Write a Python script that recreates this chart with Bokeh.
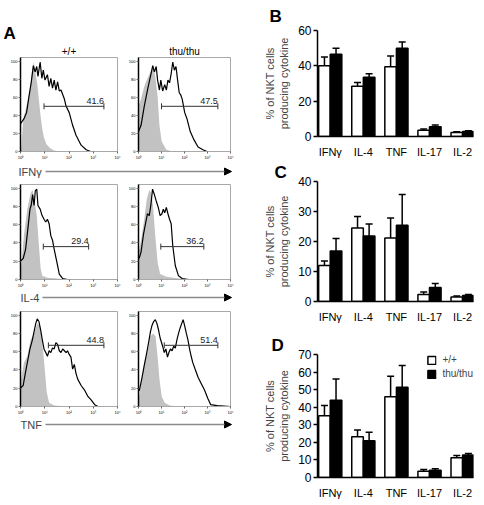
import numpy as np
from bokeh.plotting import figure
from bokeh.layouts import row, column
from bokeh.models import (Range1d, FixedTicker, Whisker, TeeHead, NormalHead, Arrow,
                          Label, ColumnDataSource, Spacer, Legend, LegendItem, Title)
from bokeh.core.properties import value
from bokeh.embed import file_html
from bokeh.resources import INLINE

FONT = "Liberation Sans"

# ---------------- bar chart data (panels B, C, D) ----------------
categories = ["IFNγ", "IL-4", "TNF", "IL-17", "IL-2"]
genotypes = ["+/+", "thu/thu"]

b_wt = [40.0, 28.5, 39.5, 3.5, 2.3]
b_wt_err = [5.0, 2.0, 6.0, 0.7, 0.4]
b_mut = [46.5, 33.5, 50.0, 5.5, 2.8]
b_mut_err = [3.5, 2.0, 3.5, 1.0, 0.4]

c_wt = [12.0, 24.5, 21.2, 2.3, 1.5]
c_wt_err = [1.5, 3.8, 6.6, 0.9, 0.3]
c_mut = [16.8, 21.8, 25.4, 4.7, 2.0]
c_mut_err = [4.2, 4.0, 10.3, 1.3, 0.3]

d_wt = [35.1, 23.2, 46.0, 3.6, 11.2]
d_wt_err = [5.9, 3.9, 11.6, 0.9, 1.3]
d_mut = [44.0, 20.9, 51.3, 4.1, 12.8]
d_mut_err = [12.1, 4.9, 12.5, 0.9, 0.9]

b_ticks = [0, 20, 40, 60]
c_ticks = [0, 10, 20, 30, 40]
d_ticks = [0, 10, 20, 30, 40, 50, 60, 70]

# ---------------- histogram data (panel A), x in log10 decades, y in % of max ----------------
hist_markers = ["IFNγ", "IL-4", "TNF"]
hist_tick_labels = ["10⁰", "10¹", "10²", "10³", "10⁴"]

ifng_wt_ctrl_x = [0.0, 0.03, 0.11, 0.21, 0.30, 0.41, 0.48, 0.55, 0.62, 0.69, 0.76, 0.83, 0.90, 0.96, 1.07, 1.21, 1.38, 1.65, 4.0]
ifng_wt_ctrl_y = [3, 3, 36, 46, 57, 72, 90, 99, 86, 75, 57, 39, 25, 16, 8, 4, 1, 0, 0]
ifng_wt_x = [0.0, 0.03, 0.14, 0.25, 0.35, 0.44, 0.53, 0.60, 0.67, 0.72, 0.81, 0.88, 0.94, 1.01, 1.11, 1.18, 1.25, 1.32, 1.39, 1.46, 1.53, 1.60, 1.67, 1.81, 1.88, 2.01, 2.15, 2.29, 2.50, 2.71, 2.89, 4.0]
ifng_wt_y = [30, 32, 36, 43, 61, 76, 95, 88, 94, 83, 99, 81, 90, 79, 85, 72, 81, 70, 79, 68, 77, 67, 68, 58, 50, 43, 29, 18, 7, 2, 0, 0]
ifng_mut_ctrl_x = [0.0, 0.11, 0.25, 0.39, 0.52, 0.62, 0.73, 0.83, 0.91, 1.01, 1.21, 1.49, 4.0]
ifng_mut_ctrl_y = [50, 58, 72, 81, 88, 94, 83, 61, 29, 11, 2, 0, 0]
ifng_mut_x = [0.0, 0.11, 0.25, 0.39, 0.52, 0.62, 0.69, 0.77, 0.83, 0.91, 0.97, 1.05, 1.14, 1.21, 1.28, 1.35, 1.42, 1.49, 1.56, 1.63, 1.70, 1.77, 1.83, 1.90, 2.01, 2.11, 2.25, 2.39, 2.59, 2.80, 2.98, 4.0]
ifng_mut_y = [22, 29, 50, 68, 83, 95, 88, 94, 79, 68, 79, 67, 74, 68, 79, 76, 86, 99, 90, 94, 79, 65, 63, 58, 43, 36, 22, 14, 5, 2, 0, 0]

il4_wt_ctrl_x = [0.0, 0.03, 0.14, 0.28, 0.42, 0.50, 0.58, 0.67, 0.76, 0.83, 0.90, 1.11, 1.53, 1.81, 4.0]
il4_wt_ctrl_y = [15, 15, 48, 77, 95, 98, 86, 70, 37, 12, 4, 2, 1, 0, 0]
il4_wt_x = [0.0, 0.03, 0.11, 0.21, 0.31, 0.39, 0.44, 0.50, 0.56, 0.61, 0.67, 0.72, 0.81, 0.89, 0.97, 1.04, 1.11, 1.18, 1.25, 1.32, 1.39, 1.50, 1.60, 1.74, 1.94, 4.0]
il4_wt_y = [20, 21, 23, 33, 57, 77, 81, 93, 81, 97, 99, 81, 77, 70, 66, 63, 66, 61, 48, 43, 33, 19, 6, 1, 0, 0]
il4_mut_ctrl_x = [0.0, 0.04, 0.14, 0.25, 0.36, 0.47, 0.55, 0.63, 0.73, 0.83, 0.94, 1.21, 1.77, 2.18, 4.0]
il4_mut_ctrl_y = [33, 33, 48, 66, 88, 98, 95, 81, 48, 19, 6, 3, 1, 0, 0]
il4_mut_x = [0.0, 0.04, 0.11, 0.22, 0.32, 0.39, 0.47, 0.55, 0.61, 0.69, 0.77, 0.86, 0.94, 1.02, 1.08, 1.14, 1.21, 1.28, 1.35, 1.42, 1.49, 1.60, 1.74, 1.90, 2.18, 4.0]
il4_mut_y = [23, 24, 30, 50, 63, 72, 70, 84, 99, 93, 86, 79, 70, 72, 77, 73, 79, 72, 66, 61, 37, 15, 4, 1, 0, 0]

tnf_wt_ctrl_x = [0.0, 0.03, 0.14, 0.28, 0.42, 0.56, 0.69, 0.81, 0.90, 1.00, 1.08, 1.18, 1.39, 1.94, 4.0]
tnf_wt_ctrl_y = [30, 30, 48, 55, 73, 80, 91, 88, 70, 41, 16, 4, 1, 0, 0]
tnf_wt_x = [0.0, 0.03, 0.11, 0.21, 0.31, 0.39, 0.49, 0.56, 0.63, 0.69, 0.76, 0.83, 0.90, 0.97, 1.04, 1.11, 1.18, 1.25, 1.32, 1.39, 1.46, 1.53, 1.60, 1.67, 1.74, 1.81, 1.88, 1.94, 2.01, 2.08, 2.15, 2.22, 2.29, 2.36, 2.50, 2.64, 2.78, 2.92, 3.06, 3.19, 4.0]
tnf_wt_y = [20, 21, 23, 38, 52, 63, 73, 82, 91, 96, 93, 84, 73, 63, 59, 55, 61, 59, 64, 63, 70, 68, 61, 59, 63, 61, 59, 61, 57, 54, 41, 46, 36, 30, 23, 18, 11, 7, 2, 0, 0]
tnf_mut_ctrl_x = [0.0, 0.04, 0.14, 0.25, 0.39, 0.52, 0.63, 0.74, 0.83, 0.91, 1.01, 1.14, 1.35, 1.77, 4.0]
tnf_mut_ctrl_y = [12, 12, 30, 48, 59, 77, 80, 77, 55, 30, 11, 4, 1, 0, 0]
tnf_mut_x = [0.0, 0.04, 0.14, 0.25, 0.36, 0.46, 0.52, 0.59, 0.66, 0.73, 0.80, 0.87, 0.94, 1.05, 1.12, 1.19, 1.26, 1.32, 1.39, 1.46, 1.53, 1.60, 1.67, 1.74, 1.81, 1.88, 1.94, 2.01, 2.08, 2.15, 2.22, 2.29, 2.36, 2.46, 2.59, 2.73, 2.87, 3.01, 3.14, 3.42, 4.0]
tnf_mut_y = [17, 18, 30, 45, 59, 73, 82, 89, 93, 95, 91, 84, 75, 66, 59, 63, 54, 59, 63, 61, 66, 64, 73, 80, 86, 91, 95, 88, 80, 73, 63, 55, 48, 41, 32, 25, 18, 9, 2, 1, 0]

gate_lo = [0.97, 1.00, 0.94, 0.97, 1.15, 1.12]
gate_hi = [3.44, 3.45, 2.81, 2.84, 3.44, 3.45]
gate_y = [50, 50, 36, 36, 67, 67]
gate_pct = ["41.6", "47.5", "29.4", "36.2", "44.8", "51.4"]


def style_axis(ax, size):
    ax.major_label_text_font = FONT
    ax.major_label_text_font_size = size
    ax.major_label_text_color = "black"


def letter_title(text, offset, standoff):
    return Title(text=text, align="left", offset=offset, standoff=standoff, text_color="black",
                 text_font=FONT, text_font_size="17px", text_font_style="bold")


def hist(width, bl, br, bt, bb, title, cx, cy, sx, sy, k, letter=None):
    fh = 97
    height = bt + fh + bb
    p = figure(width=width, height=height, x_range=Range1d(0, 4), y_range=Range1d(0, 104),
               title=letter_title(letter, -17, 0) if letter else None,
               output_backend="svg", toolbar_location=None,
               min_border_left=bl, min_border_right=br, min_border_top=bt, min_border_bottom=bb)
    p.varea(x=cx, y1=0, y2=cy, fill_color="#c2c2c2")
    p.line(sx, sy, line_color="black", line_width=1.2)
    src = ColumnDataSource(dict(base=[gate_y[k]], lower=[gate_lo[k]], upper=[gate_hi[k]]))
    p.add_layout(Whisker(source=src, base="base", lower="lower", upper="upper", dimension="width",
                         line_color="#333333", line_width=1,
                         upper_head=TeeHead(size=6, line_color="#333333", line_width=1),
                         lower_head=TeeHead(size=6, line_color="#333333", line_width=1),
                         level="overlay"))
    p.text(x=[gate_hi[k]], y=[gate_y[k] + 2.5], text=[gate_pct[k]], text_align="right",
           text_baseline="bottom", text_font_size="9px", text_font=value(FONT), text_color="#222222")
    p.grid.visible = False
    p.outline_line_color = "#a8a8a8"
    xa = p.xaxis[0]
    xa.ticker = FixedTicker(ticks=[0, 1, 2, 3, 4])
    xa.major_label_overrides = {i: t for i, t in enumerate(hist_tick_labels)}
    xa.axis_line_color = "#a8a8a8"
    xa.major_tick_out = 2
    xa.major_tick_in = 0
    xa.major_tick_line_color = "#666666"
    xa.minor_tick_line_color = None
    xa.major_label_standoff = 1
    style_axis(xa, "4px")
    ya = p.yaxis[0]
    ya.ticker = FixedTicker(ticks=[0, 20, 40, 60, 80, 100])
    ya.axis_line_color = "black"
    ya.axis_line_width = 1.5
    ya.major_tick_out = 2
    ya.major_tick_in = 0
    ya.major_tick_line_color = "#666666"
    ya.minor_tick_line_color = None
    ya.major_label_standoff = 1
    style_axis(ya, "4px")
    if title:
        p.add_layout(Title(text=title, align="center", text_font=FONT, text_font_size="10px",
                           text_font_style="normal", text_color="black", standoff=2), "above")
    return p


def strip(h, text, tx, ax0, ay):
    p = figure(width=244, height=h, x_range=Range1d(0, 244), y_range=Range1d(0, h),
               min_border=0, toolbar_location=None, output_backend="svg", title=None,
               x_axis_location=None, y_axis_location=None)
    p.grid.visible = False
    p.outline_line_color = None
    p.add_layout(Arrow(end=NormalHead(size=7, fill_color="black", line_color="black"),
                       x_start=ax0, y_start=ay, x_end=231, y_end=ay,
                       start_units="screen", end_units="screen",
                       line_color="#8a8a8a", line_width=1.5))
    p.add_layout(Label(x=tx, y=ay, x_units="screen", y_units="screen", text=text,
                       text_baseline="middle", text_font=FONT, text_font_size="11px"))
    return p


def bars(height, bt, bb, ymax, ticks, wt, wte, mut, mute, letter, letter_off, letter_standoff, show_legend=False):
    p = figure(width=236, height=height, x_range=Range1d(-0.385, 4.33), y_range=Range1d(0, ymax),
               min_border_left=73, min_border_right=7, min_border_top=bt, min_border_bottom=bb,
               output_backend="svg", toolbar_location=None, title=None)
    idx = np.arange(len(categories))
    r1 = p.vbar(x=idx - 0.175, top=wt, width=0.35, fill_color="white", line_color="black", line_width=1.5)
    r2 = p.vbar(x=idx + 0.175, top=mut, width=0.35, fill_color="black", line_color="black", line_width=1.5)
    for off, vals, errs in ((-0.175, wt, wte), (0.175, mut, mute)):
        src = ColumnDataSource(dict(base=idx + off, lower=np.array(vals),
                                    upper=np.array(vals) + np.array(errs)))
        p.add_layout(Whisker(source=src, base="base", lower="lower", upper="upper",
                             line_color="black", line_width=1.5,
                             upper_head=TeeHead(size=7, line_color="black", line_width=1.5),
                             lower_head=None, level="underlay"))
    p.grid.visible = False
    p.outline_line_color = None
    xa = p.xaxis[0]
    xa.ticker = FixedTicker(ticks=[int(i) for i in idx])
    xa.major_label_overrides = {int(i): c for i, c in enumerate(categories)}
    xa.major_tick_line_color = None
    xa.minor_tick_line_color = None
    xa.axis_line_width = 1.5
    xa.major_label_standoff = 3
    style_axis(xa, "11px")
    ya = p.yaxis[0]
    ya.ticker = FixedTicker(ticks=ticks)
    ya.minor_tick_line_color = None
    ya.major_tick_out = 4
    ya.major_tick_in = 0
    ya.major_tick_line_width = 1.5
    ya.axis_line_width = 1.5
    ya.major_label_standoff = 2
    style_axis(ya, "12px")
    ya.axis_label = "% of NKT cells\nproducing cytokine"
    ya.axis_label_text_font = FONT
    ya.axis_label_text_font_size = "11px"
    ya.axis_label_text_font_style = "normal"
    ya.axis_label_standoff = 5
    p.add_layout(letter_title(letter, letter_off, letter_standoff), "above")
    if show_legend:
        leg = Legend(items=[LegendItem(label=genotypes[0], renderers=[r1]),
                            LegendItem(label=genotypes[1], renderers=[r2])],
                     location="top_right", border_line_color=None, background_fill_alpha=0,
                     label_text_font=FONT, label_text_font_size="10px", glyph_width=10,
                     glyph_height=10, spacing=3, padding=0, margin=0, label_standoff=6,
                     label_height=10)
        p.add_layout(leg)
    return p


h1 = hist(125, 20, 8, 57, 8, "+/+", ifng_wt_ctrl_x, ifng_wt_ctrl_y, ifng_wt_x, ifng_wt_y, 0, letter="A")
h2 = hist(119, 8, 14, 57, 8, "thu/thu", ifng_mut_ctrl_x, ifng_mut_ctrl_y, ifng_mut_x, ifng_mut_y, 1)
h3 = hist(125, 20, 8, 4, 9, None, il4_wt_ctrl_x, il4_wt_ctrl_y, il4_wt_x, il4_wt_y, 2)
h4 = hist(119, 8, 14, 4, 9, None, il4_mut_ctrl_x, il4_mut_ctrl_y, il4_mut_x, il4_mut_y, 3)
h5 = hist(125, 20, 8, 6, 9, None, tnf_wt_ctrl_x, tnf_wt_ctrl_y, tnf_wt_x, tnf_wt_y, 4)
h6 = hist(119, 8, 14, 6, 9, None, tnf_mut_ctrl_x, tnf_mut_ctrl_y, tnf_mut_x, tnf_mut_y, 5)

s1 = strip(18, hist_markers[0], 18, 45, 9)
s2 = strip(15, hist_markers[1], 20, 42, 8)
s3 = strip(15, hist_markers[2], 20, 45, 8)

left = column(row(h1, h2), s1, row(h3, h4), s2, row(h5, h6), s3, Spacer(width=244, height=60))

pb = bars(160, 23, 23, 60, b_ticks, b_wt, b_wt_err, b_mut, b_mut_err, "B", -48, 9)
pc = bars(165, 17, 16, 40, c_ticks, c_wt, c_wt_err, c_mut, c_mut_err, "C", -43, 0)
pd = bars(176, 29, 16, 70, d_ticks, d_wt, d_wt_err, d_mut, d_mut_err, "D", -46, 0, show_legend=True)

right = column(pb, pc, pd)
layout = row(left, right)

open("out.html", "w").write(file_html(layout, INLINE))
